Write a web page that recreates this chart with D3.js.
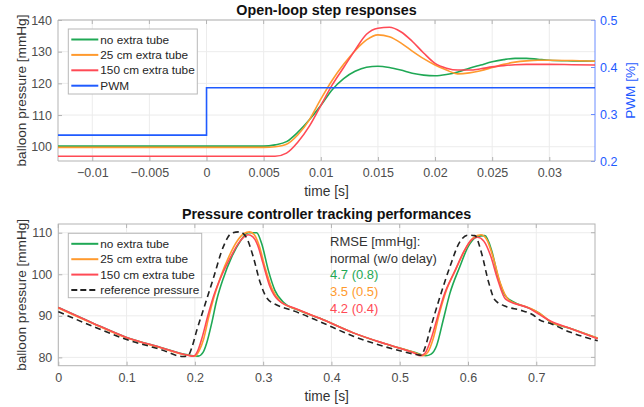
<!DOCTYPE html>
<html>
<head>
<meta charset="utf-8">
<script src="https://cdn.jsdelivr.net/npm/d3@7"></script>
<style>
  body { margin: 0; background: #fff; }
  svg { font-family: "Liberation Sans", Arial, sans-serif; }
</style>
</head>
<body>
<div id="chart"></div>
<script>
// ---- data: top plot (open-loop step responses) ----
let stepTimeGreen = [-0.013, 0.005, 0.006, 0.007, 0.008, 0.009, 0.010, 0.011, 0.012, 0.013, 0.014, 0.015, 0.016, 0.017, 0.018, 0.019, 0.020, 0.021, 0.022, 0.023, 0.024, 0.025, 0.026, 0.027, 0.028, 0.029, 0.030, 0.032, 0.034];
let stepGreen = [100.2, 100.2, 100.6, 101.6, 104.6, 108.5, 113.0, 118.0, 121.5, 123.8, 125.1, 125.4, 125.0, 124.2, 123.2, 122.6, 122.4, 122.8, 123.6, 124.8, 125.8, 126.8, 127.5, 127.9, 127.9, 127.6, 127.3, 127.1, 127.0];

let stepTimeOrange = [-0.013, 0.005, 0.006, 0.007, 0.008, 0.009, 0.010, 0.011, 0.012, 0.013, 0.014, 0.015, 0.016, 0.017, 0.018, 0.019, 0.020, 0.021, 0.022, 0.023, 0.024, 0.025, 0.026, 0.027, 0.028, 0.029, 0.030, 0.032, 0.034];
let stepOrange = [99.8, 99.8, 100.0, 100.8, 103.8, 108.5, 115.0, 121.0, 126.0, 130.3, 133.7, 135.3, 134.7, 132.8, 130.2, 127.8, 125.8, 124.2, 123.0, 123.3, 124.0, 125.0, 126.0, 126.7, 127.1, 127.3, 127.3, 127.2, 127.0];

let stepTimeRed = [-0.013, 0.006, 0.007, 0.008, 0.009, 0.010, 0.011, 0.012, 0.013, 0.014, 0.015, 0.016, 0.017, 0.018, 0.019, 0.020, 0.021, 0.022, 0.023, 0.024, 0.025, 0.026, 0.027, 0.028, 0.030, 0.032, 0.034];
let stepRed = [97.0, 97.0, 98.0, 101.5, 106.5, 113.0, 119.5, 125.0, 130.5, 135.5, 137.4, 137.7, 136.3, 133.3, 129.6, 126.3, 124.8, 124.2, 124.2, 124.6, 125.2, 125.6, 125.9, 126.0, 126.0, 125.9, 125.8];

let pwmTime = [-0.013, 0, 0, 0.034];
let pwmValue = [0.255, 0.255, 0.356, 0.356];

let stepLegend = ["no extra tube", "25 cm extra tube", "150 cm extra tube", "PWM"];
let stepXTicks = [-0.01, -0.005, 0, 0.005, 0.01, 0.015, 0.02, 0.025, 0.03];
let stepYTicks = [100, 110, 120, 130, 140];
let pwmTicks = [0.2, 0.3, 0.4, 0.5];

// ---- data: bottom plot (tracking) ----
let refTime = [0, 0.05, 0.1, 0.15, 0.183, 0.19, 0.196, 0.2026, 0.2123, 0.227, 0.2416, 0.254, 0.266, 0.276, 0.2855, 0.2953, 0.305, 0.32, 0.339, 0.354, 0.383, 0.432, 0.48, 0.524, 0.531, 0.537, 0.544, 0.559, 0.5735, 0.588, 0.600, 0.61, 0.62, 0.63, 0.6395, 0.6565, 0.676, 0.6955, 0.705, 0.72, 0.749, 0.79];
let refValue = [91.0, 87.5, 84.3, 81.9, 80.2, 80.4, 82.6, 86.4, 91.4, 99.0, 106.6, 109.9, 110.2, 108.7, 104.2, 98.2, 94.4, 92.6, 91.5, 90.6, 88.6, 85.1, 82.5, 80.7, 80.5, 82.3, 86.4, 94.6, 101.8, 107.8, 109.4, 109.3, 105.0, 98.2, 93.8, 92.2, 91.4, 90.2, 89.0, 88.2, 86.1, 84.0];

let greenTime = [0, 0.05, 0.1, 0.15, 0.19, 0.205, 0.212, 0.217, 0.2246, 0.232, 0.2416, 0.254, 0.266, 0.278, 0.2905, 0.2978, 0.3075, 0.317, 0.329, 0.354, 0.383, 0.432, 0.48, 0.524, 0.538, 0.546, 0.554, 0.5637, 0.5735, 0.588, 0.600, 0.6126, 0.6247, 0.6345, 0.644, 0.654, 0.666, 0.69, 0.705, 0.72, 0.749, 0.79];
let greenValue = [92.0, 88.3, 84.8, 82.4, 80.6, 80.3, 81.2, 83.3, 88.2, 93.8, 99.0, 104.2, 107.8, 110.0, 110.0, 107.4, 101.0, 96.2, 93.4, 91.2, 89.4, 85.9, 83.2, 81.1, 80.4, 80.8, 82.8, 89.0, 95.4, 101.8, 106.6, 109.0, 109.3, 105.8, 99.4, 95.0, 93.4, 91.8, 90.6, 88.6, 87.0, 84.6];

let orangeTime = [0, 0.05, 0.1, 0.15, 0.19, 0.2, 0.206, 0.213, 0.22, 0.228, 0.238, 0.25, 0.262, 0.272, 0.28, 0.287, 0.294, 0.303, 0.313, 0.325, 0.35, 0.383, 0.432, 0.48, 0.524, 0.534, 0.541, 0.549, 0.558, 0.568, 0.583, 0.596, 0.608, 0.619, 0.627, 0.637, 0.647, 0.66, 0.69, 0.705, 0.72, 0.749, 0.79];
let orangeValue = [91.9, 88.2, 84.7, 82.3, 80.5, 80.3, 81.5, 84.5, 89.5, 94.5, 99.5, 104.3, 108.0, 109.8, 110.2, 109.5, 107.0, 101.5, 96.5, 93.5, 91.5, 89.4, 85.9, 83.2, 81.0, 80.4, 81.2, 84.5, 90.5, 96.0, 101.5, 106.0, 108.8, 109.5, 108.5, 104.0, 98.0, 93.8, 91.9, 90.6, 88.7, 87.0, 84.6];

let redTime = [0, 0.05, 0.1, 0.15, 0.19, 0.198, 0.204, 0.211, 0.219, 0.228, 0.24, 0.252, 0.264, 0.272, 0.278, 0.285, 0.292, 0.3, 0.31, 0.322, 0.35, 0.383, 0.432, 0.48, 0.522, 0.53, 0.537, 0.545, 0.555, 0.565, 0.58, 0.594, 0.605, 0.614, 0.623, 0.633, 0.643, 0.655, 0.69, 0.705, 0.72, 0.749, 0.79];
let redValue = [92.0, 88.3, 84.8, 82.4, 80.5, 80.3, 81.5, 85.0, 90.0, 95.0, 100.0, 104.0, 107.5, 109.0, 109.5, 109.0, 107.0, 102.5, 97.0, 93.8, 91.6, 89.4, 85.9, 83.2, 81.0, 80.4, 81.0, 84.0, 89.5, 95.0, 100.5, 105.5, 108.3, 108.9, 108.0, 104.5, 99.0, 94.0, 91.8, 90.3, 88.8, 87.0, 84.5];

let trackLegend = ["no extra tube", "25 cm extra tube", "150 cm extra tube", "reference pressure"];
let rmseHeader = ["RMSE [mmHg]:", "normal (w/o delay)"];
let rmseValues = ["4.7 (0.8)", "3.5 (0.5)", "4.2 (0.4)"];
let trackXTicks = [0, 0.1, 0.2, 0.3, 0.4, 0.5, 0.6, 0.7];
let trackYTicks = [80, 90, 100, 110];

// ---- styling ----
let green = "#1fa855", orange = "#ff9a2e", red = "#ff4a55", blue = "#1f5bff", rightBlue = "#6a8cff";
let axisGray = "#b3b3b3", gridGray = "#ececec", tickText = "#4d4d4d";

let svg = d3.select("#chart").append("svg")
  .attr("width", 644).attr("height", 407);

function zip(ts, vs) { return ts.map((t, i) => [t, vs[i]]); }

function drawFrame(g, x, y, xTicks, yTicks, w, h, title, ylabel) {
  // grid
  g.append("g").selectAll("line").data(xTicks).enter().append("line")
    .attr("x1", d => x(d)).attr("x2", d => x(d)).attr("y1", 0).attr("y2", h)
    .attr("stroke", gridGray).attr("stroke-width", 1);
  g.append("g").selectAll("line").data(yTicks).enter().append("line")
    .attr("x1", 0).attr("x2", w).attr("y1", d => y(d)).attr("y2", d => y(d))
    .attr("stroke", gridGray).attr("stroke-width", 1);

  let xa = g.append("g").attr("transform", "translate(0," + h + ")")
    .call(d3.axisBottom(x).tickValues(xTicks).tickSizeInner(-4).tickSizeOuter(0).tickPadding(7).tickFormat(d => d3.format("~g")(d)));
  let ya = g.append("g")
    .call(d3.axisLeft(y).tickValues(yTicks).tickSizeInner(-4).tickSizeOuter(0).tickPadding(6));
  [xa, ya].forEach(a => {
    a.select(".domain").remove();
    a.selectAll("line").attr("stroke", axisGray);
    a.selectAll("text").attr("fill", tickText).style("font-size", "12.5px").style("font-family", "Liberation Sans, Arial, sans-serif");
  });
  // top ticks
  g.append("g").selectAll("line").data(xTicks).enter().append("line")
    .attr("x1", d => x(d)).attr("x2", d => x(d)).attr("y1", 0).attr("y2", 4)
    .attr("stroke", axisGray);

  g.append("text").attr("x", w / 2).attr("y", -5).attr("text-anchor", "middle")
    .style("font-size", "14.3px").style("font-weight", "bold").attr("fill", "#111").text(title);
  g.append("text").attr("x", w / 2).attr("y", h + 35).attr("text-anchor", "middle")
    .style("font-size", "13.8px").attr("fill", "#333").text("time [s]");
  g.append("text").attr("transform", "translate(-37," + (h / 2) + ")rotate(-90)")
    .attr("text-anchor", "middle").attr("dy", "0.35em")
    .style("font-size", "13.6px").attr("fill", "#333").text(ylabel);
}

function drawLegend(g, x0, y0, w, h, labels, colors, dashes) {
  g.append("rect").attr("x", x0).attr("y", y0).attr("width", w).attr("height", h)
    .attr("fill", "#fff").attr("stroke", "#b8b8b8").attr("stroke-width", 1);
  labels.forEach((lab, i) => {
    let cy = y0 + 10.5 + i * 15.4;
    g.append("line").attr("x1", x0 + 3).attr("x2", x0 + 30).attr("y1", cy).attr("y2", cy)
      .attr("stroke", colors[i]).attr("stroke-width", 2)
      .attr("stroke-dasharray", dashes[i] || null);
    g.append("text").attr("x", x0 + 32).attr("y", cy).attr("dy", "0.35em")
      .style("font-size", "11.8px").attr("fill", "#262626").text(lab);
  });
}

// ================= top plot =================
let m1 = {left: 58, top: 20, w: 537, h: 141};
let g1 = svg.append("g").attr("transform", "translate(" + m1.left + "," + m1.top + ")");
let x1 = d3.scaleLinear().domain([-0.013, 0.034]).range([0, m1.w]);
let y1 = d3.scaleLinear().domain([95.5, 140]).range([m1.h, 0]);
let y1r = d3.scaleLinear().domain([0.2, 0.5]).range([m1.h, 0]);

drawFrame(g1, x1, y1, stepXTicks, stepYTicks, m1.w, m1.h, "Open-loop step responses", "balloon pressure [mmHg]");

// right axis
let ra = g1.append("g").attr("transform", "translate(" + m1.w + ",0)")
  .call(d3.axisRight(y1r).tickValues(pwmTicks).tickSizeInner(-4).tickSizeOuter(0).tickPadding(5).tickFormat(d3.format(".1f")));
ra.select(".domain").remove();
ra.selectAll("line").attr("stroke", rightBlue);
ra.selectAll("text").attr("fill", blue).style("font-size", "12.5px").style("font-family", "Liberation Sans, Arial, sans-serif");
g1.append("text").attr("transform", "translate(" + (m1.w + 35) + "," + (m1.h / 2) + ")rotate(-90)")
  .attr("text-anchor", "middle").attr("dy", "0.35em")
  .style("font-size", "13.6px").attr("fill", blue).text("PWM [%]");

// box
g1.append("line").attr("x1", 0).attr("x2", m1.w).attr("y1", 0).attr("y2", 0).attr("stroke", axisGray);
g1.append("line").attr("x1", 0).attr("x2", m1.w).attr("y1", m1.h).attr("y2", m1.h).attr("stroke", axisGray);
g1.append("line").attr("x1", 0).attr("x2", 0).attr("y1", 0).attr("y2", m1.h).attr("stroke", axisGray);
g1.append("line").attr("x1", m1.w).attr("x2", m1.w).attr("y1", 0).attr("y2", m1.h).attr("stroke", rightBlue);

let line1 = d3.line().x(d => x1(d[0])).y(d => y1(d[1])).curve(d3.curveMonotoneX);
[[stepTimeGreen, stepGreen, green], [stepTimeOrange, stepOrange, orange], [stepTimeRed, stepRed, red]].forEach(s => {
  g1.append("path").datum(zip(s[0], s[1]))
    .attr("fill", "none").attr("stroke", s[2]).attr("stroke-width", 1.6).attr("d", line1);
});
g1.append("path").datum(zip(pwmTime, pwmValue))
  .attr("fill", "none").attr("stroke", blue).attr("stroke-width", 1.6)
  .attr("d", d3.line().x(d => x1(d[0])).y(d => y1r(d[1])));

drawLegend(g1, 10.3, 9, 129, 65, stepLegend, [green, orange, red, blue], []);

// ================= bottom plot =================
let m2 = {left: 58.3, top: 224, w: 536.7, h: 141.7};
let g2 = svg.append("g").attr("transform", "translate(" + m2.left + "," + m2.top + ")");
let x2 = d3.scaleLinear().domain([0, 0.786]).range([0, m2.w]);
let y2 = d3.scaleLinear().domain([78, 112.1]).range([m2.h, 0]);

drawFrame(g2, x2, y2, trackXTicks, trackYTicks, m2.w, m2.h, "Pressure controller tracking performances", "balloon pressure [mmHg]");
// right ticks + box
g2.append("g").selectAll("line").data(trackYTicks).enter().append("line")
  .attr("x1", m2.w - 4).attr("x2", m2.w).attr("y1", d => y2(d)).attr("y2", d => y2(d)).attr("stroke", axisGray);
g2.append("rect").attr("x", 0).attr("y", 0).attr("width", m2.w).attr("height", m2.h)
  .attr("fill", "none").attr("stroke", axisGray);

let line2 = d3.line().x(d => x2(d[0])).y(d => y2(d[1])).curve(d3.curveMonotoneX);
[[greenTime, greenValue, green], [orangeTime, orangeValue, orange], [redTime, redValue, red]].forEach(s => {
  g2.append("path").datum(zip(s[0], s[1]))
    .attr("fill", "none").attr("stroke", s[2]).attr("stroke-width", 1.6).attr("d", line2);
});
g2.append("path").datum(zip(refTime, refValue))
  .attr("fill", "none").attr("stroke", "#222").attr("stroke-width", 1.6)
  .attr("stroke-dasharray", "6,4").attr("d", line2);

drawLegend(g2, 10, 9.3, 133.4, 64.4, trackLegend, [green, orange, red, "#222"], [null, null, null, "6,3"]);

// RMSE annotation
let rmseColors = [green, orange, red];
rmseHeader.concat(rmseValues).forEach((t, i) => {
  g2.append("text").attr("x", 330 - m2.left).attr("y", 17.7 + i * 16.6).attr("dy", "0.35em")
    .style("font-size", "13px")
    .attr("fill", i < 2 ? "#333" : rmseColors[i - 2]).text(t);
});
</script>
</body>
</html>
